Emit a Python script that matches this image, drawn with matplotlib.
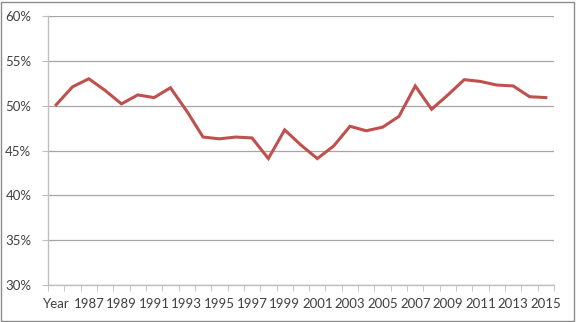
import matplotlib.pyplot as plt
from matplotlib.patches import Rectangle
from matplotlib.ticker import FuncFormatter

# categories (first one is labelled "Year" in the source sheet)
categories = ["Year"] + [str(y) for y in range(1986, 2016)]
share = [50.1, 52.1, 53.0, 51.7, 50.2, 51.2, 50.9, 52.0, 49.4, 46.5,
         46.3, 46.5, 46.4, 44.1, 47.3, 45.6, 44.1, 45.5, 47.7, 47.2,
         47.6, 48.8, 52.2, 49.6, 51.2, 52.9, 52.7, 52.3, 52.2, 51.0,
         50.9]

plt.rcParams['font.family'] = ['Lato', 'DejaVu Sans']
txt = '#404040'
grid_c = '#a6a6a6'
axis_c = '#bfbfbf'

fig = plt.figure(figsize=(5.76, 3.22), dpi=100)
ax = fig.add_axes([48 / 576, 1 - 285 / 322, 506 / 576, 269 / 322])

x = list(range(len(categories)))
ax.plot(x, share, color='#c0504d', linewidth=2.2, solid_joinstyle='miter', zorder=3)

ax.set_xlim(-0.5, len(categories) - 0.5)
ax.set_ylim(30, 60)
ax.set_yticks(range(30, 61, 5))
ax.yaxis.set_major_formatter(FuncFormatter(lambda v, p: '%d%%' % v))
ax.grid(axis='y', color=grid_c, linewidth=0.9)
ax.set_axisbelow(True)

# labels on every second category, tick marks between categories
ax.set_xticks(x[::2])
ax.set_xticklabels(categories[::2])
ax.set_xticks([i - 0.5 for i in range(len(categories) + 1)], minor=True)
ax.tick_params(axis='x', which='major', length=0, pad=9, labelsize=9.5, labelcolor=txt)
ax.tick_params(axis='x', which='minor', length=4, color=axis_c, direction='out')
ax.tick_params(axis='y', length=4, color=axis_c, pad=8, labelsize=9.5, labelcolor=txt)

for s in ['top', 'right']:
    ax.spines[s].set_visible(False)
ax.spines['left'].set_color(axis_c)
ax.spines['bottom'].set_color(axis_c)
ax.spines['left'].set_linewidth(1.0)
ax.spines['bottom'].set_linewidth(1.0)

# chart border
fig.patches.append(Rectangle((0.002, 0.004), 0.994, 0.99, transform=fig.transFigure,
                             fill=False, edgecolor='#8c8c8c', linewidth=1.0))

fig.savefig('out.png', dpi=100)
